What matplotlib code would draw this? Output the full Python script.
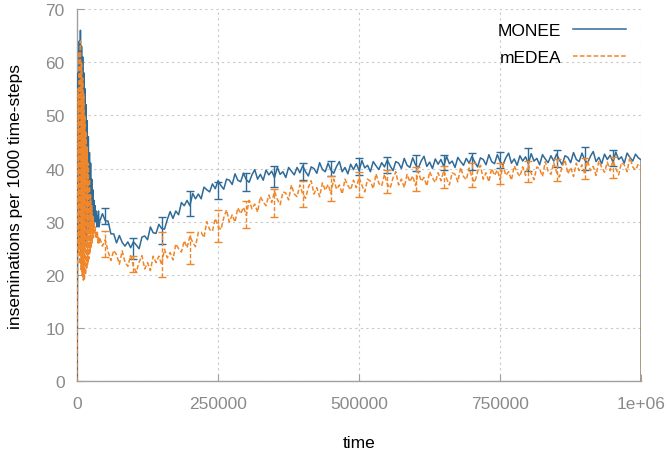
import numpy as np
import matplotlib
matplotlib.use("Agg")
import matplotlib.pyplot as plt

# sampling grid: dense at the start, coarser afterwards, plus the final drop to zero
time = np.concatenate([np.arange(0, 41000, 1000), np.arange(45000, 1000001, 5000), [1000000]])

monee = [
    0, 30, 58, 28, 64, 26, 66, 24, 63, 23, 61, 24, 58, 25, 55, 26, 52, 27, 49, 28,
    46, 29, 43, 29, 41, 30, 38, 30, 36, 31, 34, 30, 33, 30, 32, 29, 31, 30, 32, 29, 30,
    31.5, 30.2, 30.1, 27.7, 27.7, 26.0, 27.4, 26.1, 25.4, 26.2,
    25.1, 26.2, 25.6, 24.9, 27.1, 27.3, 26.6, 29.0, 27.9, 27.8,
    29.5, 28.7, 28.6, 30.4, 31.9, 30.6, 32.0, 31.3, 33.6, 33.0,
    34.0, 33.0, 35.3, 34.3, 35.2, 34.3, 36.5, 36.0, 35.6, 37.1,
    36.2, 37.7, 36.8, 36.1, 38.0, 37.8, 37.0, 39.0, 37.8, 37.5,
    39.1, 37.9, 37.4, 38.8, 39.8, 38.0, 38.9, 37.8, 39.7, 38.8,
    39.5, 38.3, 40.2, 38.9, 39.4, 38.3, 40.2, 39.5, 38.8, 40.2,
    39.2, 40.5, 39.4, 38.6, 40.3, 40.0, 39.1, 41.1, 39.8, 39.4,
    41.0, 39.7, 39.1, 40.4, 41.3, 39.4, 40.2, 39.0, 40.8, 39.8,
    40.9, 39.6, 41.5, 40.1, 40.6, 39.4, 41.3, 40.5, 39.8, 41.1,
    40.3, 41.6, 40.5, 39.6, 41.3, 41.0, 40.0, 41.9, 40.6, 40.2,
    42.0, 40.7, 40.1, 41.4, 42.3, 40.4, 41.2, 40.0, 41.8, 40.8,
    41.7, 40.4, 42.3, 40.9, 41.4, 40.2, 42.1, 41.3, 40.6, 41.9,
    41.0, 42.3, 41.2, 40.3, 42.0, 41.7, 40.7, 42.6, 41.3, 40.9,
    42.6, 41.3, 40.7, 42.0, 42.9, 41.0, 41.8, 40.6, 42.4, 41.4,
    42.2, 40.9, 42.8, 41.4, 41.9, 40.7, 42.6, 41.8, 41.1, 42.4,
    41.4, 42.7, 41.6, 40.7, 42.4, 42.1, 41.1, 43.0, 41.7, 41.3,
    42.9, 41.6, 41.0, 42.3, 43.2, 41.3, 42.1, 40.9, 42.7, 41.7,
    42.5, 41.2, 43.1, 41.7, 42.2, 41.0, 42.9, 42.1, 41.4, 42.7,
    42.0, 41.6, 0,
]

medea = [
    0, 28, 55, 24, 62, 22, 64, 21, 60, 20, 57, 19, 54, 19, 50, 20, 47, 21, 44, 22,
    41, 23, 38, 24, 35, 25, 33, 26, 31, 27, 30, 28, 29, 27, 28, 27, 28, 26, 27, 26, 27,
    25.4, 26.6, 24.4, 22.7, 24.6, 23.8, 22.0, 24.5, 22.4, 21.6,
    23.6, 21.6, 20.5, 22.4, 23.6, 21.1, 22.3, 20.8, 23.5, 22.3,
    23.5, 21.9, 24.8, 23.2, 24.2, 22.8, 25.8, 24.9, 24.3, 26.4,
    25.1, 27.3, 26.1, 25.3, 28.0, 28.0, 27.0, 30.0, 28.5, 28.2,
    30.6, 29.1, 28.5, 30.7, 32.2, 29.9, 31.3, 29.9, 32.6, 31.5,
    32.7, 31.2, 34.0, 32.4, 33.3, 31.8, 34.7, 33.7, 33.0, 35.0,
    33.6, 35.7, 34.2, 33.2, 35.6, 35.4, 34.1, 36.9, 35.2, 34.7,
    36.9, 35.2, 34.4, 36.4, 37.7, 35.2, 36.4, 34.7, 37.3, 35.9,
    37.0, 35.3, 38.0, 36.1, 36.9, 35.2, 38.0, 36.8, 36.0, 37.8,
    36.4, 38.3, 36.8, 35.6, 38.0, 37.6, 36.2, 39.0, 37.2, 36.7,
    38.9, 37.1, 36.3, 38.2, 39.4, 36.9, 38.0, 36.4, 38.9, 37.5,
    38.6, 36.8, 39.5, 37.6, 38.3, 36.7, 39.4, 38.2, 37.4, 39.2,
    37.7, 39.6, 38.1, 36.9, 39.2, 38.9, 37.5, 40.2, 38.5, 37.9,
    40.1, 38.3, 37.4, 39.4, 40.6, 38.0, 39.2, 37.5, 40.0, 38.7,
    39.7, 37.9, 40.6, 38.7, 39.4, 37.8, 40.5, 39.3, 38.5, 40.3,
    38.7, 40.7, 39.1, 37.9, 40.3, 39.9, 38.5, 41.3, 39.5, 38.9,
    41.1, 39.3, 38.4, 40.4, 41.6, 39.0, 40.2, 38.5, 41.0, 39.6,
    40.7, 38.9, 41.5, 39.6, 40.4, 38.7, 41.4, 40.2, 39.3, 41.2,
    39.6, 41.5, 40.0, 38.8, 41.1, 40.7, 39.4, 42.1, 40.3, 39.7,
    40.9, 40.5, 0,
]

# error bars every 50000 steps
err_time = np.arange(50000, 1000000, 50000)
monee_err_mean = [31.0, 25.0, 28.3, 33.4, 35.8, 37.5, 38.5, 39.4, 40.0, 40.4,
                  40.7, 41.0, 41.2, 41.4, 41.6, 41.7, 41.8, 41.9, 42.0]
monee_err = [1.5, 2.0, 2.5, 2.4, 1.6, 1.7, 2.0, 1.6, 1.5, 1.6,
             1.5, 1.5, 1.4, 1.6, 1.5, 2.1, 1.6, 2.1, 1.5]
medea_err_mean = [25.8, 22.0, 23.8, 25.0, 29.1, 31.3, 33.5, 35.2, 36.2, 37.0,
                  37.5, 38.0, 38.4, 38.8, 39.1, 39.4, 39.7, 40.0, 40.2]
medea_err = [2.5, 1.5, 4.3, 3.0, 3.0, 2.5, 2.6, 2.5, 2.4, 2.3,
             2.2, 2.2, 2.1, 2.3, 2.0, 2.0, 2.0, 2.0, 2.0]

x_ticks = [0, 250000, 500000, 750000, 1000000]
x_tick_labels = ["0", "250000", "500000", "750000", "1e+06"]

blue = "#2f6b98"
orange = "#f0862a"
grey = "#8a8a8a"
font = ["Liberation Sans", "DejaVu Sans"]

fig = plt.figure(figsize=(6.7, 4.56), dpi=100)
ax = fig.add_axes([0.115, 0.162, 0.842, 0.816])

dash = (0, (3, 1.5))
ax.plot(time, monee, color=blue, lw=1.1, label="MONEE", zorder=3)
ax.plot(time, medea, color=orange, lw=1.1, ls=dash, label="mEDEA", zorder=4)

ax.errorbar(err_time, monee_err_mean, yerr=monee_err, fmt="none",
            ecolor=blue, elinewidth=1, capsize=3, capthick=1, zorder=3)
eb2 = ax.errorbar(err_time, medea_err_mean, yerr=medea_err, fmt="none",
                  ecolor=orange, elinewidth=1, capsize=3, capthick=1, zorder=4)
for c in eb2.lines[2]:
    c.set_linestyle((0, (3, 1.5)))

ax.set_xlim(0, 1000000)
ax.set_ylim(0, 70)
ax.set_xticks(x_ticks)
ax.set_xticklabels(x_tick_labels)
ax.set_yticks(range(0, 71, 10))

ax.grid(True, color="#c8c8c8", ls=(0, (2, 3)), lw=0.8)
for side in ["top", "right"]:
    ax.spines[side].set_visible(False)
for side in ["left", "bottom"]:
    ax.spines[side].set_color("#a0a0a0")
    ax.spines[side].set_linewidth(1)

ax.tick_params(direction="in", length=5, color="#a0a0a0", labelcolor=grey,
               labelsize=12.5)
ax.tick_params(axis="x", pad=11)
ax.tick_params(axis="y", pad=9)
for lab in ax.get_xticklabels() + ax.get_yticklabels():
    lab.set_family(font)

ax.set_xlabel("time", fontsize=12.5, family=font, labelpad=17)
ax.set_ylabel("inseminations per 1000 time-steps", fontsize=12.5,
              family=font, labelpad=16)

ax.legend(loc="upper right", bbox_to_anchor=(1.0, 1.005), frameon=False,
          markerfirst=False, handlelength=3.0, handletextpad=0.7,
          labelspacing=0.7, prop={"family": font, "size": 12.5})

fig.savefig("out.png", dpi=100)
